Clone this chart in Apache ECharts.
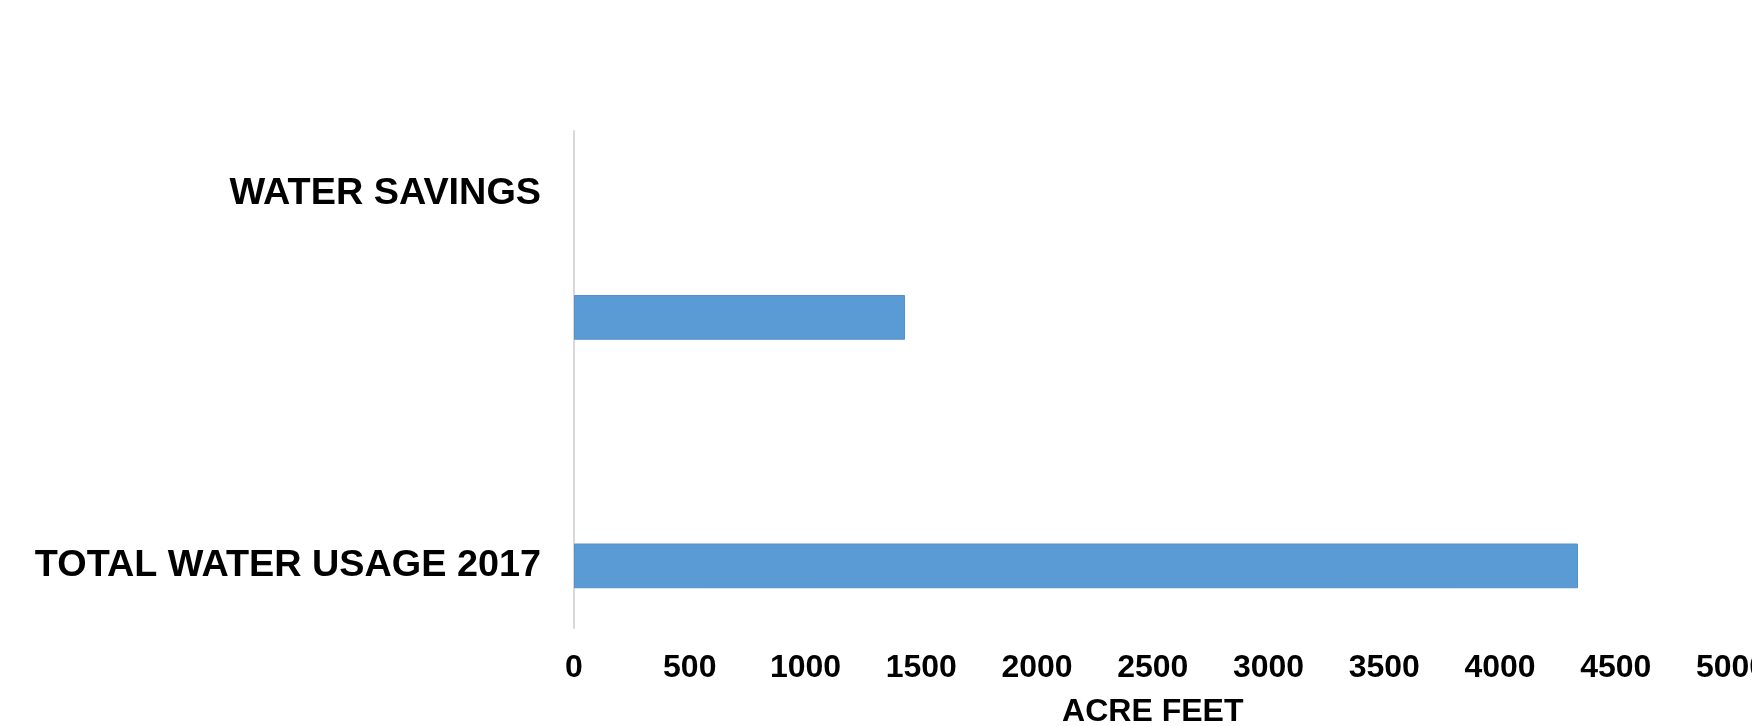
<!DOCTYPE html>
<html>
<head>
<meta charset="utf-8">
<style>
  html, body { margin: 0; padding: 0; background: #ffffff; }
  #chart { width: 1752px; height: 726px; }
</style>
<script src="https://cdn.jsdelivr.net/npm/echarts@6/dist/echarts.min.js"></script>
</head>
<body>
<div id="chart"></div>
<script>
// Category rows, listed bottom to top
const categories = ['TOTAL WATER USAGE 2017', '', '', 'WATER SAVINGS'];
// Acre-feet per row (null = no bar)
const acreFeet = [4337, null, 1430, null];
// Value axis range
const axisMin = 0;
const axisMax = 5000;
const axisStep = 500;
const axisTitle = 'ACRE FEET';

const chart = echarts.init(document.getElementById('chart'), null, { renderer: 'canvas' });

const font = '"Liberation Sans", Arial, Helvetica, sans-serif';

chart.setOption({
  animation: false,
  backgroundColor: '#ffffff',
  grid: {
    left: 574, right: 20.5, top: 131, bottom: 98,
    containLabel: false, outerBoundsMode: 'none'
  },
  xAxis: {
    type: 'value',
    min: axisMin,
    max: axisMax,
    interval: axisStep,
    name: axisTitle,
    nameLocation: 'middle',
    nameGap: 68,
    nameTextStyle: { color: '#000000', fontFamily: font, fontWeight: 'bold', fontSize: 32 },
    axisLine: { show: false },
    axisTick: { show: false },
    splitLine: { show: false },
    axisLabel: {
      color: '#000000', fontFamily: font, fontWeight: 'bold', fontSize: 32,
      margin: 24, hideOverlap: false, showMaxLabel: true, showMinLabel: true,
      formatter: (v) => String(v)
    }
  },
  yAxis: {
    type: 'category',
    data: categories,
    axisLine: { show: true, lineStyle: { color: '#d9d9d9', width: 2 } },
    axisTick: { show: false },
    splitLine: { show: false },
    axisLabel: {
      color: '#000000', fontFamily: font, fontWeight: 'bold', fontSize: 37.8,
      margin: 33, interval: 0
    }
  },
  series: [{
    type: 'bar',
    data: acreFeet,
    barWidth: '36%',
    itemStyle: { color: '#5b9bd5', borderColor: '#5590c8', borderWidth: 1 }
  }]
});
</script>
</body>
</html>
